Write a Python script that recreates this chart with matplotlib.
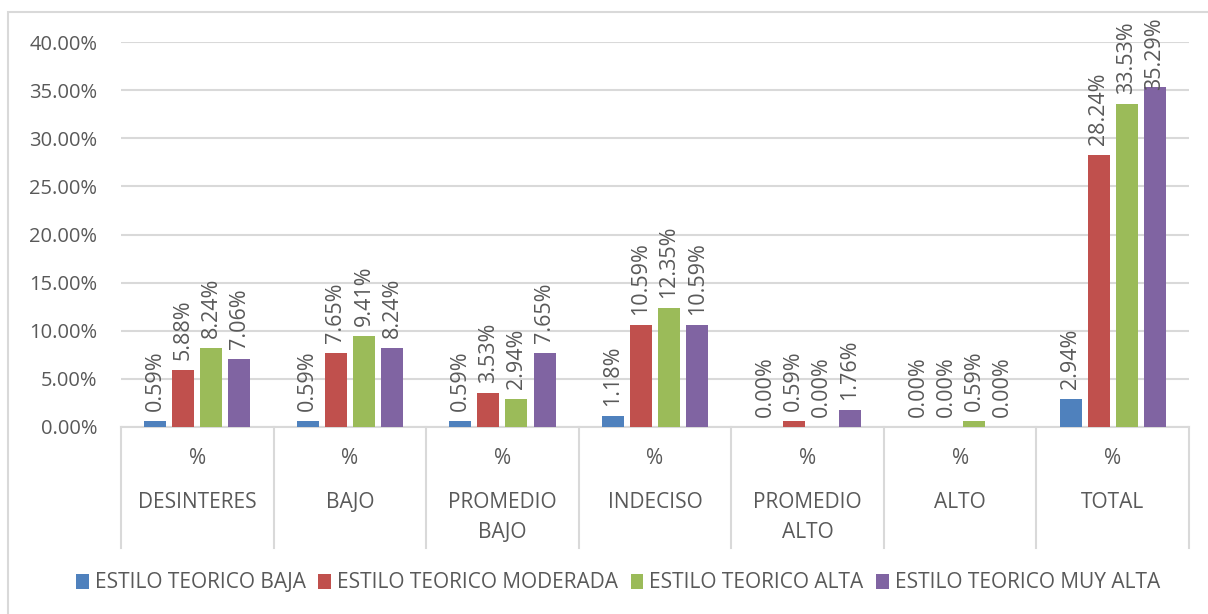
import numpy as np
import matplotlib
matplotlib.use("Agg")
import matplotlib.pyplot as plt
from matplotlib.patches import Rectangle, Patch
from matplotlib.lines import Line2D

# ========= 数据 =========
categories = ["DESINTERES", "BAJO", "PROMEDIO\nBAJO", "INDECISO",
              "PROMEDIO\nALTO", "ALTO", "TOTAL"]
series_names = ["ESTILO TEORICO BAJA", "ESTILO TEORICO MODERADA",
                "ESTILO TEORICO ALTA", "ESTILO TEORICO MUY ALTA"]
baja = [0.59, 0.59, 0.59, 1.18, 0.00, 0.00, 2.94]
moderada = [5.88, 7.65, 3.53, 10.59, 0.59, 0.00, 28.24]
alta = [8.24, 9.41, 2.94, 12.35, 0.00, 0.59, 33.53]
muy_alta = [7.06, 8.24, 7.65, 10.59, 1.76, 0.00, 35.29]
yticks = [0, 5, 10, 15, 20, 25, 30, 35, 40]

colors = ["#4F81BD", "#C0504D", "#9BBB59", "#8064A2"]
TXT = "#595959"
GRID = "#D9D9D9"
FONT = "Open Sans"

plt.rcParams["font.family"] = [FONT, "DejaVu Sans"]

W, H = 1208, 614
fig = plt.figure(figsize=(W / 100, H / 100), dpi=100)

# 外框
fig.patches.append(Rectangle((8 / W, -0.1), 1.2, 1 - 12 / H + 0.1,
                             transform=fig.transFigure, fill=False,
                             edgecolor=GRID, linewidth=1.5))

left, right, top, bottom = 121, 1189, 42, 427
ax = fig.add_axes([left / W, 1 - bottom / H, (right - left) / W, (bottom - top) / H])

n = len(categories)
x = np.arange(n)
bw = 0.144
step = 0.184
all_series = [baja, moderada, alta, muy_alta]

# 像素 -> 数据单位
ph = bottom - top
px2data = 40 / ph
label_gap = 10 * px2data
# 标签不能超出图表区上沿 (像 Excel 一样往下压)
label_max = 40 + (top - 90) * px2data

for i, vals in enumerate(all_series):
    xpos = x + (i - 1.5) * step
    ax.bar(xpos, vals, width=bw, color=colors[i], zorder=3)
    for xp, v in zip(xpos, vals):
        ax.text(xp, min(v + label_gap, label_max), f"{v:.2f}%",
                rotation=90, ha="center", va="bottom", fontsize=15.5,
                color=TXT, zorder=4, clip_on=False)

ax.set_xlim(-0.5, n - 0.5)
ax.set_ylim(0, 40)
ax.set_yticks(yticks)
ax.set_yticklabels([f"{t:.2f}%" for t in yticks], fontsize=14.5, color=TXT)
ax.tick_params(axis="y", length=0, pad=17)
ax.tick_params(axis="x", length=0, labelbottom=False)
ax.grid(axis="y", color=GRID, linewidth=1.5, zorder=0)
for s in ["top", "right", "left"]:
    ax.spines[s].set_visible(False)
ax.spines["bottom"].set_color(GRID)
ax.spines["bottom"].set_linewidth(1.5)

# 分类表格线和标签
trans = ax.get_xaxis_transform()


def fy(py):
    return -(py - bottom) / ph


for b in np.arange(n + 1) - 0.5:
    ax.add_line(Line2D([b, b], [0, fy(548)], transform=trans, color=GRID,
                       linewidth=1.5, clip_on=False))
for xi, cat in zip(x, categories):
    ax.text(xi, fy(458), "%", transform=trans,
            ha="center", va="center", fontsize=15, color=TXT)
    for j, line in enumerate(cat.split("\n")):
        ax.text(xi, fy(503 + 30 * j), line, transform=trans,
                ha="center", va="center", fontsize=15, color=TXT)

# 图例
handles = [Patch(facecolor=c, edgecolor="none") for c in colors]
fig.legend(handles, series_names, loc="center", bbox_to_anchor=(618 / W, 1 - 583 / H),
           ncol=4, frameon=False, fontsize=15, labelcolor=TXT,
           handlelength=0.6, handleheight=0.7, handletextpad=0.3, columnspacing=0.6)

fig.savefig("out.png", dpi=100)
